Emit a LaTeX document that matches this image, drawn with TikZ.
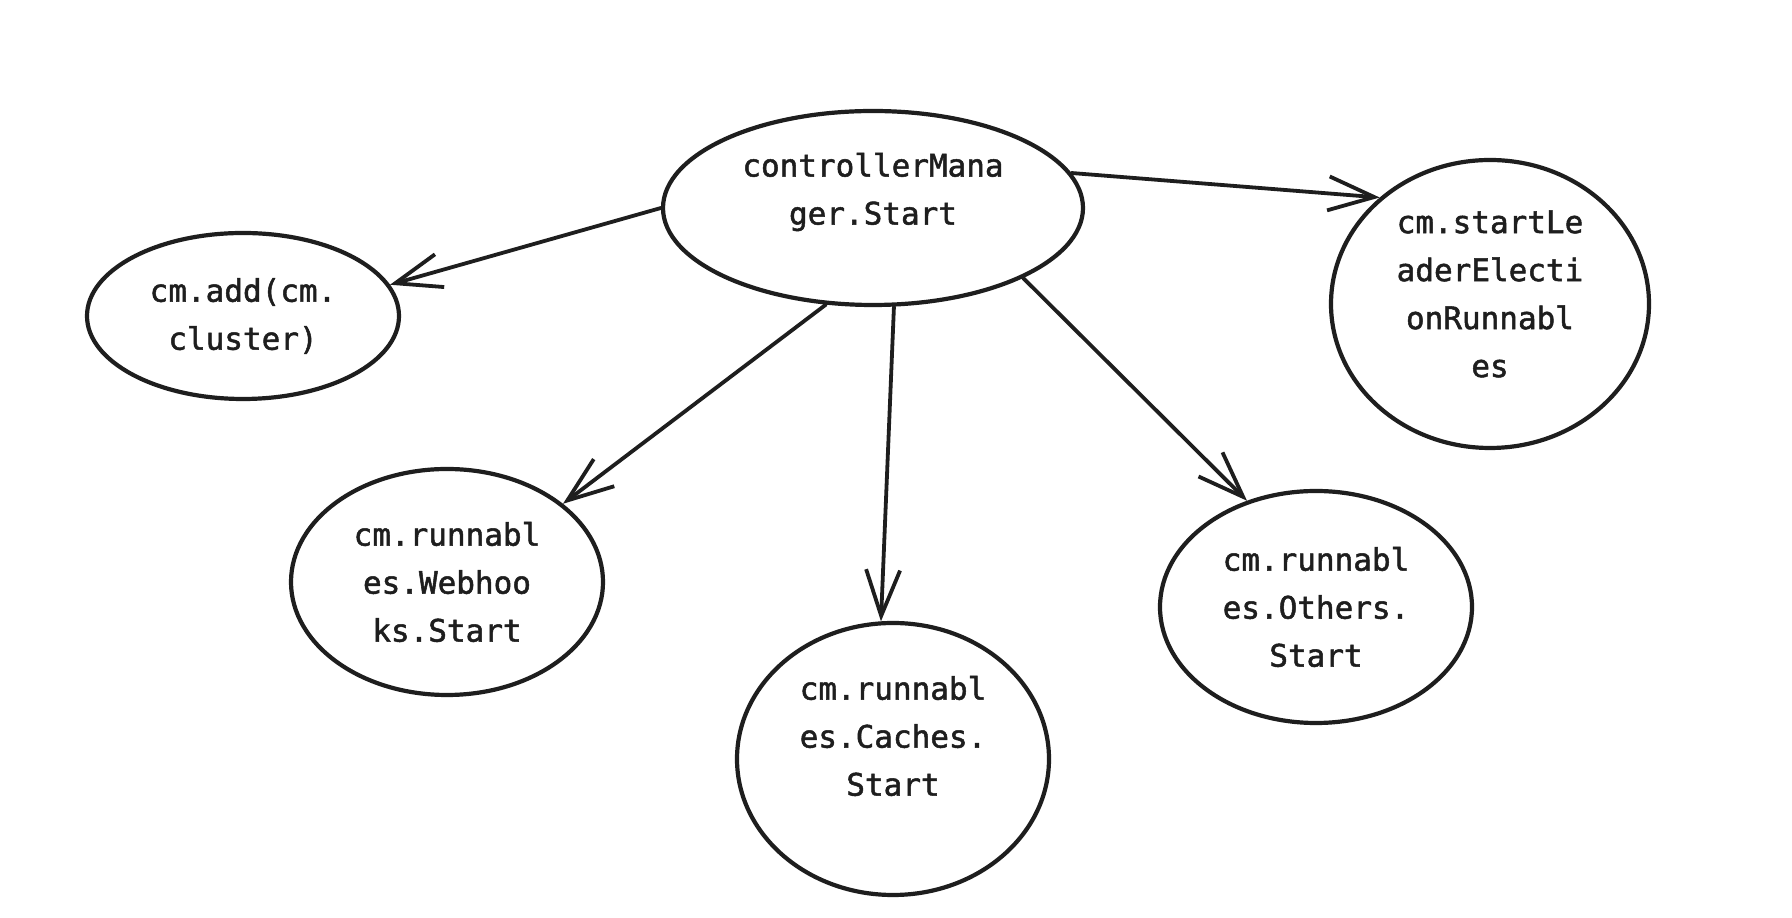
\documentclass[tikz,border=0pt]{standalone}
\usepackage{fontspec}
\setmonofont[FakeBold=1.6]{DejaVu Sans Mono}
\usetikzlibrary{shapes.geometric,arrows.meta}
\definecolor{ink}{HTML}{1E1E1E}
\begin{document}
\begin{tikzpicture}[x=1pt,y=1pt,
  bubble/.style={ellipse, draw=ink, line width=4.2pt, inner sep=0pt},
  txt/.style={inner sep=0pt, text=ink, align=center,
    font=\ttfamily\fontsize{31}{48}\selectfont},
  link/.style={draw=ink, line width=3.8pt, line cap=round,
    -{Straight Barb[length=46pt,width=34pt]}}]
\useasboundingbox[fill=white] (0,0) rectangle (1792,918);
\node[bubble, minimum width=420pt, minimum height=194pt] (cm) at (873,710) {};
\node[bubble, minimum width=312pt, minimum height=166pt] (add) at (243,602) {};
\node[bubble, minimum width=318pt, minimum height=288pt] (lead) at (1490,614) {};
\node[bubble, minimum width=312pt, minimum height=226pt] (web) at (447,336) {};
\node[bubble, minimum width=312pt, minimum height=272pt] (cache) at (893,159) {};
\node[bubble, minimum width=312pt, minimum height=232pt] (others) at (1316,311) {};
\node[txt] (cm-t) at ([yshift=16pt]cm.center) {controllerMana\\ger.Start};
\node[txt] (add-t) at (add.center) {cm.add(cm.\\cluster)};
\node[txt] (lead-t) at ([yshift=10pt]lead.center) {cm.startLe\\aderElecti\\onRunnabl\\es};
\node[txt] (web-t) at (web.center) {cm.runnabl\\es.Webhoo\\ks.Start};
\node[txt] (cache-t) at ([yshift=23pt]cache.center) {cm.runnabl\\es.Caches.\\Start};
\node[txt] (others-t) at (others.center) {cm.runnabl\\es.Others.\\Start};
\draw[link] (cm.180) -- (add.12);
\draw[link] (cm.10) -- (lead.136);
\draw[link] (cm.244) -- (web.34);
\draw[link] (cm.282) -- (cache.95);
\draw[link] (cm.335) -- (others.123);
\end{tikzpicture}
\end{document}
